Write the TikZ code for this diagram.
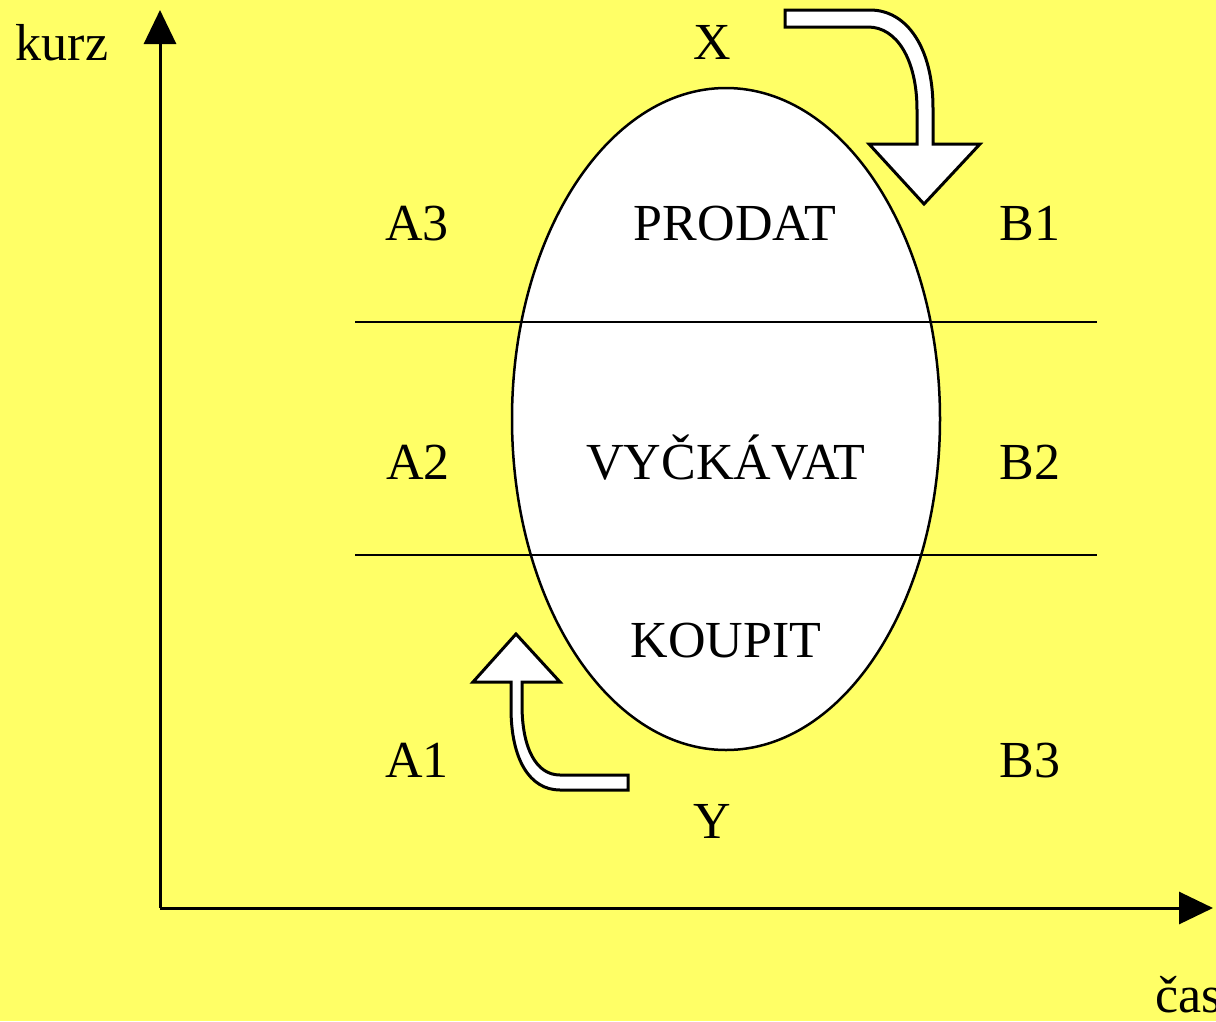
\documentclass[tikz,border=0pt]{standalone}
\usepackage{fontspec}
\setmainfont{Liberation Serif}
\usetikzlibrary{arrows.meta,shapes.geometric}
\definecolor{bgyellow}{HTML}{FFFF66}
\tikzset{
  lbl/.style={anchor=base, inner sep=0pt, font=\fontsize{52}{60}\selectfont},
  axis/.style={line width=3pt, -{Triangle[length=34pt,width=32pt]}},
  bigarrow/.style={draw, fill=white, line width=3pt, line join=miter},
  divider/.style={line width=2.5pt},
}
\begin{document}
\begin{tikzpicture}[x=1pt,y=-1pt]
  \fill[bgyellow] (0,0) rectangle (1216,1021);
  \useasboundingbox (0,0) rectangle (1216,1021);

  % region of the oval
  \node (oval) [draw, fill=white, line width=2.5pt, ellipse, minimum width=428pt,
        minimum height=662pt, inner sep=0pt] at (726,419) {};

  % dividing lines
  \coordinate (l1a) at (355,322); \coordinate (l1b) at (1097,322);
  \coordinate (l2a) at (355,555); \coordinate (l2b) at (1097,555);
  \draw[divider] (l1a) -- (l1b);
  \draw[divider] (l2a) -- (l2b);

  % axes
  \coordinate (origin) at (160,908);
  \coordinate (ytip) at (160,10);
  \coordinate (xtip) at (1213,908);
  \draw[axis] (origin) -- (ytip);
  \draw[axis] (origin) -- (xtip);

  % curved arrow at the top
  \draw[bigarrow] (785,10) -- (870,10) .. controls (907,10) and (933,48) .. (933,108)
     -- (933,144) -- (980,144) -- (924,204) -- (869,144) -- (917,144) -- (917,110)
     .. controls (917,60) and (897,27) .. (868,27) -- (785,27) -- cycle;

  % curved arrow at the bottom
  \draw[bigarrow] (628,775) -- (560,775) .. controls (536,775) and (522,748) .. (522,705)
     -- (522,682) -- (560,682) -- (516,634) -- (473,682) -- (511,682) -- (511,708)
     .. controls (511,760) and (530,790) .. (560,790) -- (628,790) -- cycle;

  % labels
  \node[lbl] (kurz) at (62,60) {kurz};
  \node[lbl] (cas) [anchor=base west] at (1155,1012) {čas};
  \node[lbl] (X) at (712,59) {X};
  \node[lbl] (Y) at (712,838) {Y};
  \node[lbl] (A3) at (417,240) {A3};
  \node[lbl] (prodat) at (735,240) {PRODAT};
  \node[lbl] (B1) at (1030,240) {B1};
  \node[lbl] (A2) at (418,479) {A2};
  \node[lbl] (vyck) at (726,479) {VYČKÁVAT};
  \node[lbl] (B2) at (1030,479) {B2};
  \node[lbl] (koupit) at (726,657) {KOUPIT};
  \node[lbl] (A1) at (417,777) {A1};
  \node[lbl] (B3) at (1030,777) {B3};
\end{tikzpicture}
\end{document}
